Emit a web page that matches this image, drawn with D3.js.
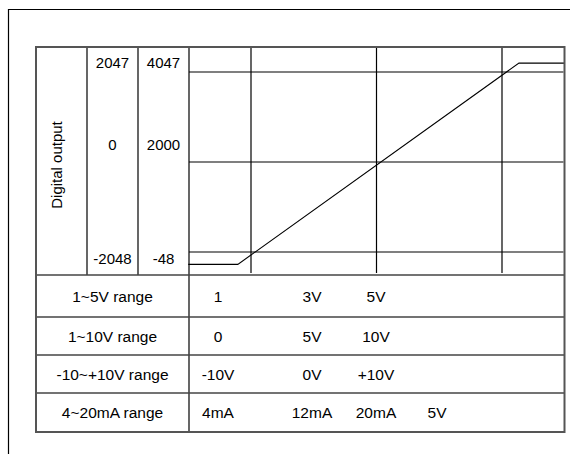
<!DOCTYPE html>
<html>
<head>
<meta charset="utf-8">
<script src="https://cdn.jsdelivr.net/npm/d3@7"></script>
<style>
  body { margin: 0; background: #fff; }
  text { font-family: "Liberation Sans", Arial, sans-serif; fill: #000; }
</style>
</head>
<body>
<svg id="chart"></svg>
<script>
// data
let inputV = [0, 0.79, 5.27, 6];          // input on the 1~5V axis
let digitalOut = [-2330, -2330, 2250, 2250];
let gridX = [1, 3, 5];
let gridY = [-2048, 0, 2047];
let codeColA = ["2047", "0", "-2048"];
let codeColB = ["4047", "2000", "-48"];
let rangeNames = ["1~5V range", "1~10V range", "-10~+10V range", "4~20mA range"];
let rangeValues = [
  ["1", "3V", "5V"],
  ["0", "5V", "10V"],
  ["-10V", "0V", "+10V"],
  ["4mA", "12mA", "20mA", "5V"]
];

let width = 570, height = 454;
let svg = d3.select("#chart").attr("width", width).attr("height", height);

// layout
let tLeft = 36, tTop = 47, tRight = 564.5, tBottom = 432;
let colLines = [87, 138, 189];
let plotBottom = 275;
let rowLines = [275, 317, 355, 393, 432];
let codeRowY = [62, 144, 258];
let valueColX = [218, 312, 376, 437];

let xax = d3.scaleLinear().domain([0, 6]).range([188.25, 564.75]);
let yax = d3.scaleLinear().domain([-2048, 2047]).range([252, 72]);

// outer frame (runs off the page)
svg.append("path")
  .attr("d", `M8.5,${height} V9.5 H${width}`)
  .attr("fill", "none")
  .attr("stroke", "#000")
  .attr("stroke-width", 1.2);

// grid in the plot area
svg.selectAll(".gx").data(gridX).enter().append("line")
  .attr("x1", d => xax(d)).attr("x2", d => xax(d))
  .attr("y1", tTop).attr("y2", plotBottom - 2)
  .attr("stroke", "#000").attr("stroke-width", 1.2);
svg.selectAll(".gy").data(gridY).enter().append("line")
  .attr("x1", colLines[2]).attr("x2", tRight - 1)
  .attr("y1", d => yax(d)).attr("y2", d => yax(d))
  .attr("stroke", "#000").attr("stroke-width", 1.2);

// transfer line
let pts = inputV.map((v, i) => [v, digitalOut[i]]);
svg.append("path")
  .attr("d", d3.line().x(d => xax(d[0])).y(d => yax(d[1]))(pts))
  .attr("fill", "none")
  .attr("stroke", "#000")
  .attr("stroke-width", 1.1);

// table lines
colLines.forEach((x, i) => {
  svg.append("line")
    .attr("x1", x).attr("x2", x)
    .attr("y1", tTop).attr("y2", i == 2 ? tBottom : plotBottom)
    .attr("stroke", "#000").attr("stroke-width", 1.2);
});
rowLines.slice(0, 4).forEach(y => {
  svg.append("line")
    .attr("x1", tLeft).attr("x2", tRight)
    .attr("y1", y).attr("y2", y)
    .attr("stroke", "#444").attr("stroke-width", 1.6);
});
svg.append("rect")
  .attr("x", tLeft).attr("y", tTop)
  .attr("width", tRight - tLeft).attr("height", tBottom - tTop)
  .attr("fill", "none")
  .attr("stroke", "#555")
  .attr("stroke-width", 2);

// digital code columns
svg.append("text")
  .text("Digital output")
  .attr("text-anchor", "middle")
  .attr("dominant-baseline", "central")
  .attr("font-size", 15)
  .attr("transform", "translate(56,165) rotate(-90)");
[codeColA, codeColB].forEach((col, c) => {
  let cx = c == 0 ? (colLines[0] + colLines[1]) / 2 : (colLines[1] + colLines[2]) / 2;
  svg.selectAll(null).data(col).enter().append("text")
    .text(d => d)
    .attr("x", cx)
    .attr("y", (d, i) => codeRowY[i])
    .attr("text-anchor", "middle")
    .attr("dominant-baseline", "central")
    .attr("font-size", 15);
});

// range rows
rangeNames.forEach((name, r) => {
  let cy = (rowLines[r] + rowLines[r + 1]) / 2;
  svg.append("text")
    .text(name)
    .attr("x", (tLeft + colLines[2]) / 2)
    .attr("y", cy)
    .attr("text-anchor", "middle")
    .attr("dominant-baseline", "central")
    .attr("font-size", 15.5);
  svg.selectAll(null).data(rangeValues[r]).enter().append("text")
    .text(d => d)
    .attr("x", (d, i) => valueColX[i])
    .attr("y", cy)
    .attr("text-anchor", "middle")
    .attr("dominant-baseline", "central")
    .attr("font-size", 15.5);
});
</script>
</body>
</html>
